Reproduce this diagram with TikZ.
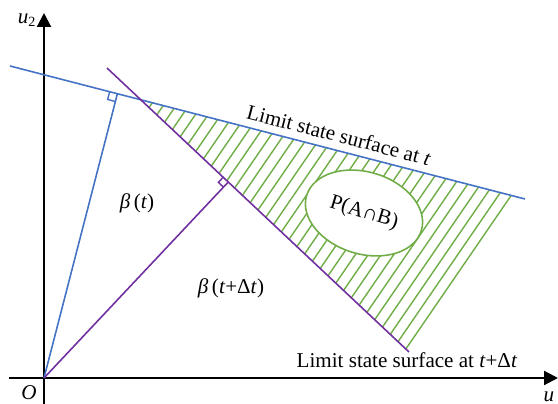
\documentclass[tikz,border=0pt]{standalone}
\usepackage{fontspec}
\setmainfont{Liberation Serif}
\usetikzlibrary{arrows.meta,calc,shapes.geometric}

\definecolor{lsblue}{RGB}{68,114,196}
\definecolor{lspurple}{RGB}{112,48,160}
\definecolor{lsgreen}{RGB}{112,173,71}

\begin{document}
\begin{tikzpicture}[x=0.02cm, y=-0.02cm, font=\fontsize{12}{14}\selectfont,
    ax/.style={line width=1.2pt, -{Triangle[length=0.28cm,width=0.28cm]}},
    ls/.style={line width=0.9pt},
    ht/.style={lsgreen, line width=0.8pt},
    rm/.style={line width=0.8pt},
    pab/.style={ellipse, draw=lsgreen, line width=0.9pt, fill=white, inner sep=0pt, minimum width=2.4cm, minimum height=1.64cm}]
    \useasboundingbox (0,0) rectangle (558,404);
    \coordinate (O) at (44,378);
    \coordinate (xs) at (9,378);
    \coordinate (xe) at (558,378);
    \coordinate (ys) at (44,410);
    \coordinate (ye) at (44,13);
    \coordinate (BL) at (10,66);
    \coordinate (BR) at (525,199);
    \coordinate (PL) at (107,68);
    \coordinate (PR) at (409,352);
    \coordinate (F1) at ($(BL)!(O)!(BR)$);
    \coordinate (F2) at ($(PL)!(O)!(PR)$);
    \coordinate (I) at (intersection of BL--BR and PL--PR);
    \coordinate (B1) at ($(BL)!0.9757!(BR)$);
    \coordinate (P1) at ($(PL)!0.9967!(PR)$);
    % hatched region
    \begin{scope}
        \clip (I) -- (B1) -- (P1) -- cycle;
        \foreach \k in {0,...,34}
            \draw [ht] ({613-12.8*\k},47) -- ({270-12.8*\k},547);
    \end{scope}
    \node [pab, rotate=-17] (pab) at (364,213) {P(A∩B)};
    % axes
    \draw [ax] (xs) -- (xe);
    \draw [ax] (ys) -- (ye);
    % limit state surfaces
    \draw [ls, lsblue] (BL) -- (BR);
    \draw [ls, lspurple] (PL) -- (PR);
    \draw [ls, lsblue] (O) -- (F1);
    \draw [ls, lspurple] (O) -- (F2);
    \coordinate (m1a) at ($(F1)!0.16cm!(BL)$);
    \coordinate (m1b) at ($(F1)!0.16cm!(O)$);
    \draw [rm, lsblue] (m1a) -- ($(m1a)+(m1b)-(F1)$) -- (m1b);
    \coordinate (m2a) at ($(F2)!0.14cm!(PL)$);
    \coordinate (m2b) at ($(F2)!0.14cm!(O)$);
    \draw [rm, lspurple] (m2a) -- ($(m2a)+(m2b)-(F2)$) -- (m2b);
    % labels
    \node (lo) at (29,393) {\textit{O}};
    \node (lu2) at (27,20) {\textit{u}\textsubscript{2}};
    \node (lu) at (549,397) {\textit{u}};
    \node [rotate=-14.5] (lt) at (339,135) {Limit state surface at \textit{t}};
    \node [anchor=base] (ldt) at (407,368) {Limit state surface at \textit{t}+Δ\textit{t}};
    \node (lbt) at (137,203) {\textit{β}\,(\textit{t})};
    \node (lbdt) at (231,288) {\textit{β}\,(\textit{t}+Δ\textit{t})};
\end{tikzpicture}
\end{document}
